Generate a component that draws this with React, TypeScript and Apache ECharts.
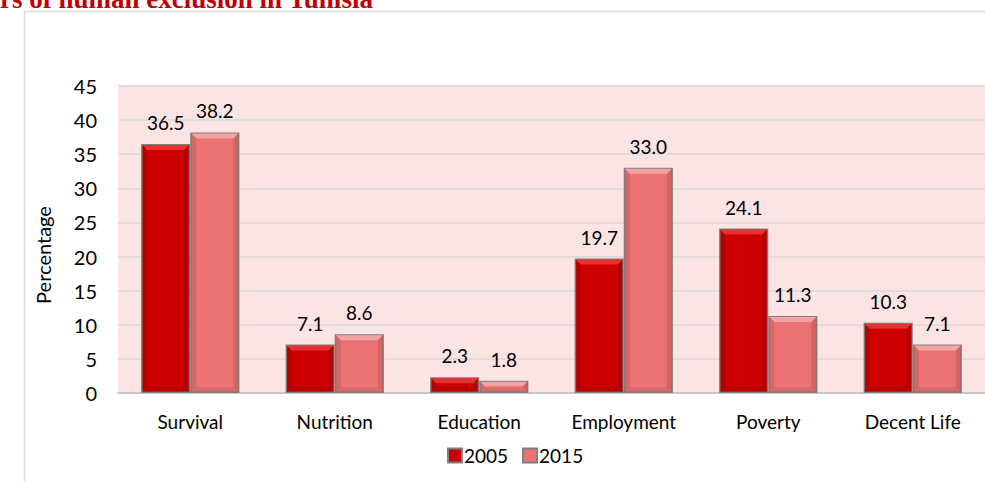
import React, { useEffect, useRef } from "react";
import * as echarts from "echarts";

const categories = ["Survival", "Nutrition", "Education", "Employment", "Poverty", "Decent Life"];
const values2005 = [36.5, 7.1, 2.3, 19.7, 24.1, 10.3];
const values2015 = [38.2, 8.6, 1.8, 33.0, 11.3, 7.1];
const seriesNames = ["2005", "2015"];
const yTicks = { min: 0, max: 45, interval: 5 };

const FONT = "Lato, 'Open Sans', sans-serif";
const CAT_GAP = 0.32;

function bevelRenderer(side: number, light: string, dark: string) {
  return (params: any, api: any) => {
    const idx = api.value(0);
    const val = api.value(1);
    const base = api.coord([idx, 0]);
    const top = api.coord([idx, val]);
    const band = api.size([1, 0])[0];
    const bw = (band * (1 - CAT_GAP)) / 2;
    const x0 = side === 0 ? base[0] - bw : base[0];
    const x1 = x0 + bw;
    const y0 = top[1];
    const y1 = base[1];
    const h = y1 - y0;
    const b = Math.min(6, h / 2.2);
    return {
      type: "group",
      silent: true,
      children: [
        {
          type: "polygon",
          shape: { points: [[x0 + 1, y0 + 1], [x1 - 1, y0 + 1], [x1 - b, y0 + b], [x0 + b, y0 + b]] },
          style: { fill: light },
        },
        {
          type: "polygon",
          shape: { points: [[x0 + 1, y0 + 1], [x0 + b, y0 + b], [x0 + b, y1 - b], [x0 + 1, y1 - 1]] },
          style: { fill: dark, opacity: 0.25 },
        },
        {
          type: "polygon",
          shape: { points: [[x1 - 1, y0 + 1], [x1 - b, y0 + b], [x1 - b, y1 - b], [x1 - 1, y1 - 1]] },
          style: { fill: dark, opacity: 0.3 },
        },
        {
          type: "polygon",
          shape: { points: [[x0 + 1, y1 - 1], [x0 + b, y1 - b], [x1 - b, y1 - b], [x1 - 1, y1 - 1]] },
          style: { fill: dark, opacity: 0.2 },
        },
      ],
    };
  };
}

export default function App() {
  const ref = useRef<HTMLDivElement>(null);
  useEffect(() => {
    if (!ref.current) return;
    const chart = echarts.init(ref.current, null, { renderer: "svg" });
    const labelCfg = {
      show: true,
      position: "top",
      distance: 12,
      color: "#000",
      fontSize: 19,
      fontFamily: FONT,
      formatter: (p: any) => Number(p.value).toFixed(1),
    };
    chart.setOption({
      animation: false,
      backgroundColor: "#fff",
      textStyle: { fontFamily: FONT },
      grid: {
        left: 118,
        right: 0,
        top: 86,
        bottom: 88,
        show: true,
        backgroundColor: "#fde4e4",
        borderWidth: 0,
      },
      legend: {
        left: 442,
        top: 441,
        itemWidth: 14,
        itemHeight: 14,
        itemGap: 14,
        icon: "rect",
        textStyle: { fontSize: 19, color: "#000", fontFamily: FONT, padding: [0, 0, 0, -3] },
        data: seriesNames,
      },
      xAxis: {
        type: "category",
        data: categories,
        axisTick: { show: false },
        axisLine: { show: true, lineStyle: { color: "#bfbfbf", width: 1.5 } },
        axisLabel: { color: "#000", fontSize: 19, margin: 19, fontFamily: FONT },
      },
      yAxis: {
        type: "value",
        min: yTicks.min,
        max: yTicks.max,
        interval: yTicks.interval,
        axisLine: { show: false },
        axisTick: { show: false },
        axisLabel: { color: "#000", fontSize: 20, margin: 21, fontFamily: FONT },
        splitLine: { lineStyle: { color: "#d9d9d9", width: 1.5 } },
      },
      series: [
        {
          name: seriesNames[0],
          type: "bar",
          data: values2005,
          barGap: "0%",
          barCategoryGap: "32%",
          itemStyle: { color: "#cc0000", borderColor: "#7f7f7f", borderWidth: 1.5 },
          label: labelCfg,
        },
        {
          name: seriesNames[1],
          type: "bar",
          data: values2015,
          barGap: "0%",
          barCategoryGap: "32%",
          itemStyle: { color: "#eb7373", borderColor: "#7f7f7f", borderWidth: 1.5 },
          label: labelCfg,
        },
        {
          name: "bevel2005",
          type: "custom",
          renderItem: bevelRenderer(0, "#e8302f", "#7a0000"),
          data: values2005.map((v, i) => [i, v]),
          encode: { x: 0, y: 1 },
          z: 5,
          silent: true,
          tooltip: { show: false },
        },
        {
          name: "bevel2015",
          type: "custom",
          renderItem: bevelRenderer(1, "#f4a3a3", "#a04040"),
          data: values2015.map((v, i) => [i, v]),
          encode: { x: 0, y: 1 },
          z: 5,
          silent: true,
          tooltip: { show: false },
        },
      ],
      graphic: [
        {
          type: "polyline",
          shape: { points: [[24.5, 481], [24.5, 11.5], [985, 11.5]] },
          style: { stroke: "#d9d9d9", lineWidth: 1.5, fill: null },
          silent: true,
        },
        {
          type: "text",
          x: 0,
          y: -1,
          style: {
            text: "rs of human exclusion in Tunisia",
            font: "bold 27px 'Liberation Serif', 'Times New Roman', serif",
            fill: "#c00000",
            verticalAlign: "middle",
            align: "left",
          },
        },
        {
          type: "text",
          x: 43,
          y: 255,
          rotation: Math.PI / 2,
          style: {
            text: "Percentage",
            font: "20px " + FONT,
            fill: "#000",
            align: "center",
            verticalAlign: "middle",
          },
        },
      ],
    });
    return () => chart.dispose();
  }, []);
  return (
    <div
      ref={ref}
      style={{ position: "fixed", left: 0, top: 0, width: 985, height: 481 }}
    />
  );
}
